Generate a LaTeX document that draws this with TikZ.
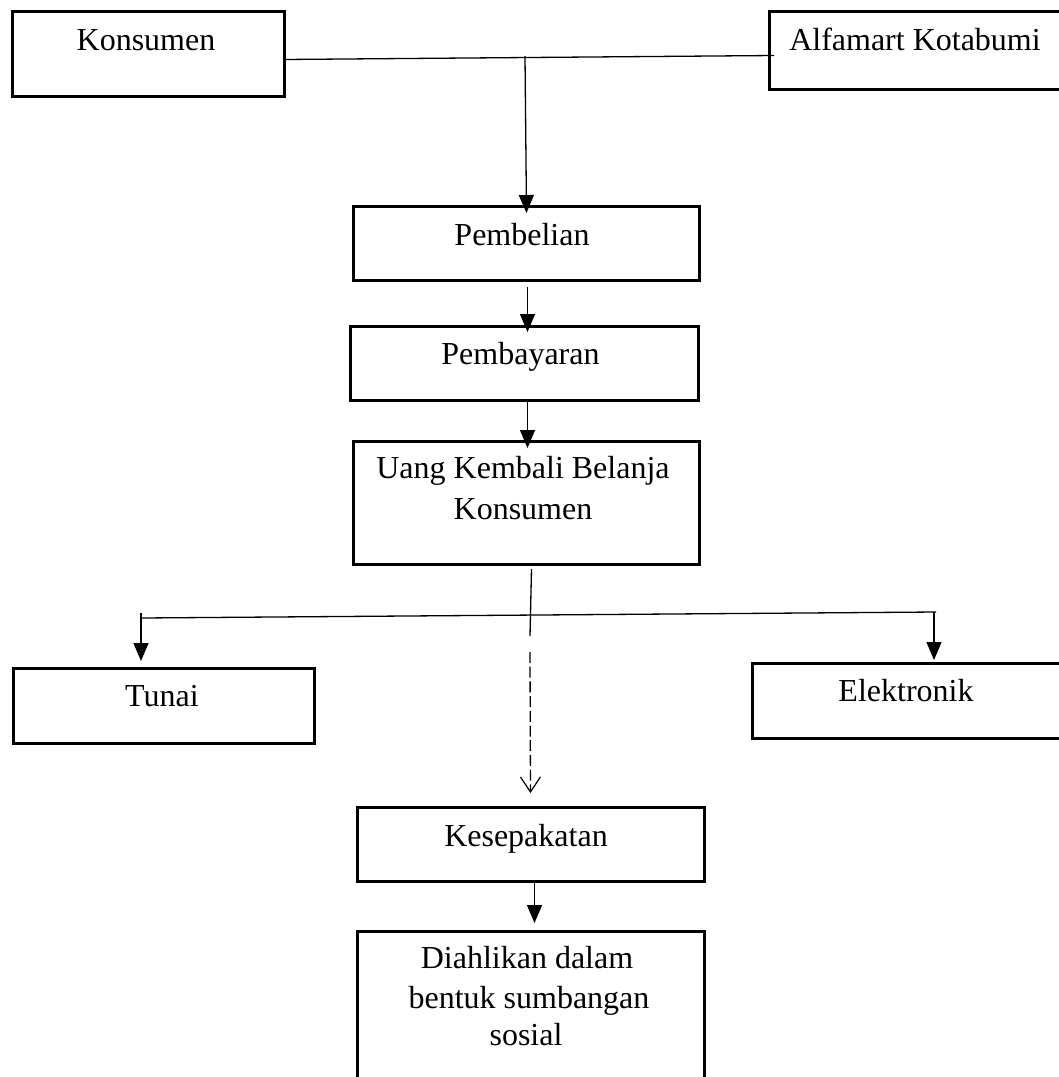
\documentclass[tikz,border=0pt]{standalone}
\usepackage{fontspec}
\setmainfont{Liberation Serif}
\usetikzlibrary{arrows.meta,calc}
\begin{document}
\begin{tikzpicture}[x=1pt,y=-1pt,
  box/.style={draw, line width=3pt, rectangle, inner sep=0pt, anchor=north west},
  txt/.style={anchor=base, inner sep=0pt, font=\fontsize{32}{40}\selectfont},
  conn/.style={line width=1.3pt},
  arr/.style={conn, -{Triangle[length=18pt,width=15pt]}},
  darr/.style={conn, dash pattern=on 11pt off 3.7pt, -{Straight Barb[length=15pt,width=20pt,line width=1.2pt]}}]
\useasboundingbox (0,0) rectangle (1059,1077);
\clip (0,0) rectangle (1059,1077);
\fill[white] (0,0) rectangle (1059,1077);

% boxes
\node[box, minimum width=272pt, minimum height=85pt] (kons) at (11,10) {};
\node[box, minimum width=320pt, minimum height=78pt] (alfa) at (768,10) {};
\node[box, minimum width=346pt, minimum height=74pt] (pemb) at (352,205) {};
\node[box, minimum width=348pt, minimum height=74pt] (bayar) at (349,325) {};
\node[box, minimum width=346pt, minimum height=123pt] (uang) at (352,440) {};
\node[box, minimum width=301pt, minimum height=75pt] (tunai) at (12,667) {};
\node[box, minimum width=330pt, minimum height=75pt] (elek) at (751,662) {};
\node[box, minimum width=347pt, minimum height=74pt] (sepakat) at (356,806) {};
\node[box, minimum width=347pt, minimum height=180pt] (alih) at (356,930) {};

% texts
\node[txt] (konsT) at (146,50) {Konsumen};
\node[txt] (alfaT) at (915,50) {Alfamart Kotabumi};
\node[txt] (pembT) at (522,245) {Pembelian};
\node[txt] (bayarT) at (520.5,364) {Pembayaran};
\node[txt] (uangT1) at (523,478) {Uang Kembali Belanja};
\node[txt] (uangT2) at (523,519) {Konsumen};
\node[txt] (tunaiT) at (162,706) {Tunai};
\node[txt] (elekT) at (906,701) {Elektronik};
\node[txt] (sepakatT) at (526,846) {Kesepakatan};
\node[txt] (alihT1) at (527,968) {Diahlikan dalam};
\node[txt] (alihT2) at (529,1008) {bentuk sumbangan};
\node[txt] (alihT3) at (526,1045) {sosial};

% top junction
\coordinate (kR) at ($(kons.east)+(-3,5.5)$);
\coordinate (aL) at ($(alfa.west)+(6,5)$);
\coordinate (j1) at (525,56);
\draw[conn] (kR) -- (aL);
\draw[arr] (j1) -- ($(pemb.north)+(0,8)$);

% chain
\draw[arr] ($(pemb.south)+(1,5)$) -- ($(bayar.north)+(3,7)$);
\draw[arr] ($(bayar.south)+(3,0)$) -- ($(uang.north)+(1,8)$);

% split
\coordinate (u1) at ($(uang.south)+(5,3)$);
\coordinate (u2) at (530,636);
\coordinate (u3) at (530,652);
\coordinate (hL) at (141,618);
\coordinate (hR) at (936,612);
\coordinate (tL) at (141,613);
\coordinate (tR) at (934,612);
\draw[conn] (u1) -- (u2);
\draw[conn] (hL) -- (hR);
\draw[arr] (tL) -- ($(tunai.north -| tL)+(0,-6)$);
\draw[arr] (tR) -- ($(elek.north -| tR)+(0,-2)$);
\draw[darr] (u3) -- ($(sepakat.north)+(-0.5,-13)$);

% bottom
\draw[arr] ($(sepakat.south)+(3.5,-2)$) -- ($(alih.north)+(3.5,-7)$);
\end{tikzpicture}
\end{document}
